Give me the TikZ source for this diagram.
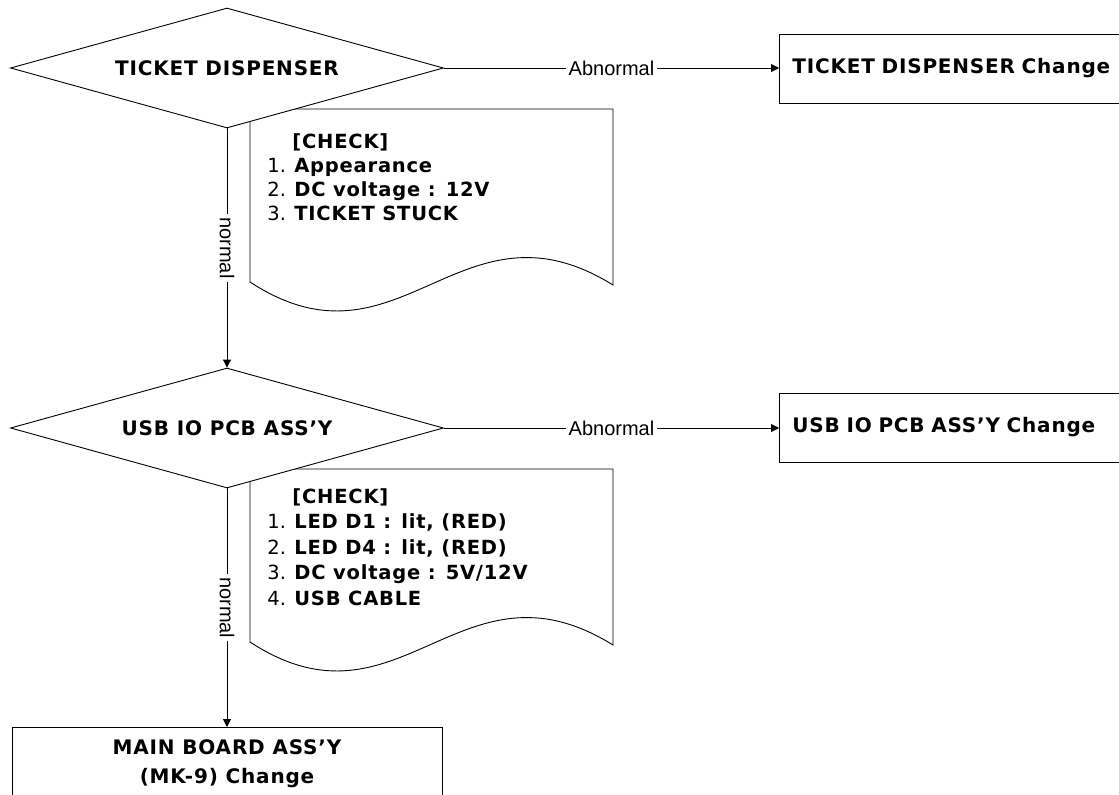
\documentclass[tikz,border=0pt]{standalone}
\usepackage{fontspec}
\setmainfont{DejaVu Sans}[BoldFeatures={LetterSpace=4}]
\newfontfamily\lblfont{Liberation Sans}
\usepackage{tikz}
\usetikzlibrary{arrows.meta, shapes.geometric}

\begin{document}
\begin{tikzpicture}[x=1pt, y=-1pt, line width=0.9pt, >={Triangle[length=8pt, width=8pt]},
        decision/.style={diamond, draw, fill=white, minimum width=433pt, minimum height=120pt, shape aspect=3.6, inner sep=0pt, font=\fontsize{20}{24}\selectfont\bfseries},
        changebox/.style={rectangle, draw, fill=white, minimum height=69pt, text width=380pt, align=left, inner xsep=13pt, font=\fontsize{20}{24}\selectfont\bfseries},
        checklist/.style={align=left, inner sep=0pt, anchor=north west},
        lbl/.style={midway, fill=white, inner sep=3pt, font=\lblfont\fontsize{20}{24}\selectfont}]
        \useasboundingbox (0,0) rectangle (1119,795);
        \clip (0,0) rectangle (1119,795);

        % Check notes (behind the decisions)
        \draw[fill=white] (250,109) -- (613,109) -- (613,285) .. controls (460,190) and (400,380) .. (250,282) -- cycle;
        \draw[fill=white] (250,469) -- (613,469) -- (613,645) .. controls (460,550) and (400,740) .. (250,642) -- cycle;
        \node[checklist, font=\fontsize{19.5}{24}\selectfont] (chk1) at (267,133) {\hspace*{25pt}\textbf{[CHECK]}\\1. \textbf{Appearance}\\2. \textbf{DC voltage : 12V}\\3. \textbf{TICKET STUCK}};
        \node[checklist, font=\fontsize{19.5}{25.5}\selectfont] (chk2) at (267,488) {\hspace*{25pt}\textbf{[CHECK]}\\1. \textbf{LED D1 : lit, (RED)}\\2. \textbf{LED D4 : lit, (RED)}\\3. \textbf{DC voltage : 5V/12V}\\4. \textbf{USB CABLE}};

        % Nodes
        \node[decision] (disp) at (227,68) {TICKET DISPENSER};
        \node[decision] (usbio) at (227,428) {USB IO PCB ASS'Y};
        \node[changebox, anchor=west] (dispchg) at (779,68.5) {TICKET DISPENSER Change};
        \node[changebox, anchor=west] (usbchg) at (779,427.5) {USB IO PCB ASS'Y Change};
        \node[draw, fill=white, anchor=north, minimum width=430pt, inner ysep=12pt, align=center, font=\fontsize{20}{29}\selectfont\bfseries] (mainchg) at (227,727) {MAIN BOARD ASS'Y\\(MK-9) Change};

        % Directed edges
        \draw[->] (disp.east) -- (disp.east -| dispchg.west) node[lbl] {Abnormal};
        \draw[->] (usbio.east) -- (usbio.east -| usbchg.west) node[lbl] {Abnormal};
        \draw[->] (disp.south) -- (usbio.north) node[lbl, rotate=-90] {normal};
        \draw[->] (usbio.south) -- (mainchg.north) node[lbl, rotate=-90] {normal};
    \end{tikzpicture}
\end{document}
